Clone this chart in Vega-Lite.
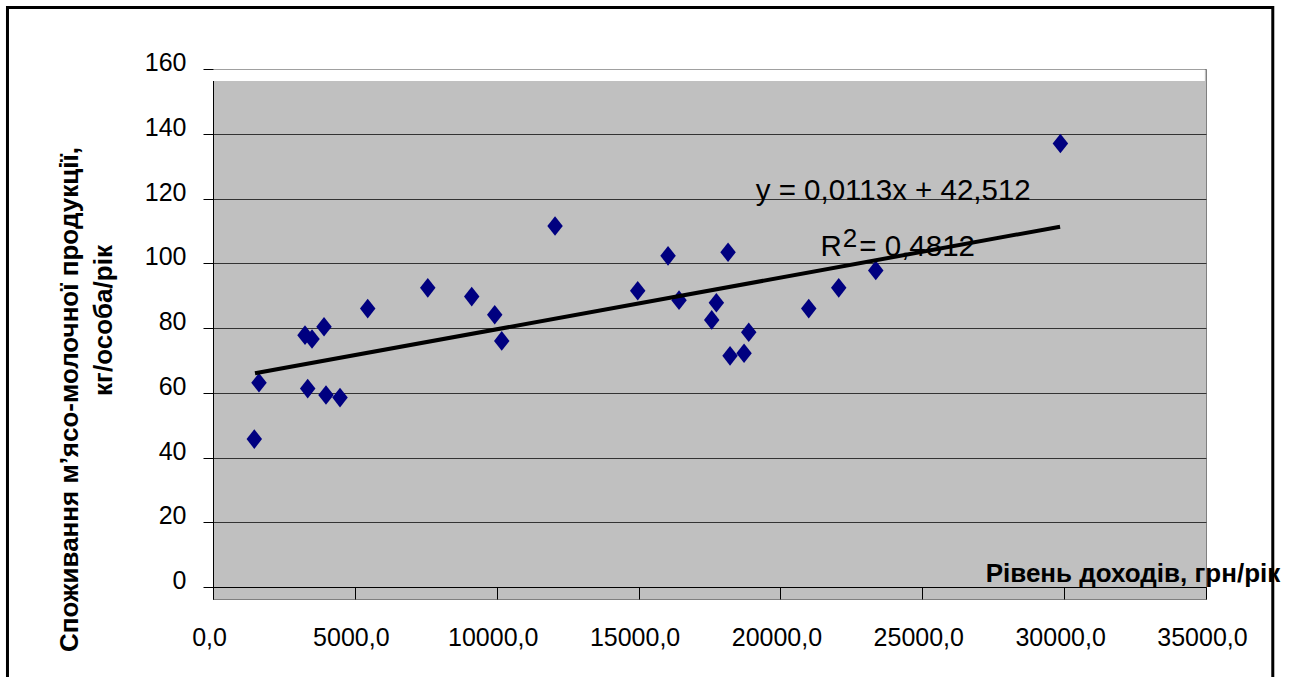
{
  "$schema": "https://vega.github.io/schema/vega-lite/v6.json",
  "width": 993,
  "height": 530,
  "autosize": {"type": "none"},
  "padding": {"left": 213, "top": 69, "right": 93, "bottom": 78},
  "background": "white",
  "config": {
    "font": "Liberation Sans",
    "view": {"fill": "#C0C0C0", "stroke": "#808080", "strokeWidth": 1}
  },
  "data": {"values": [{}]},
  "datasets": {
    "points": [
      {"income": 1456, "consumption": 45.7},
      {"income": 1621, "consumption": 63.1},
      {"income": 3243, "consumption": 77.8},
      {"income": 3490, "consumption": 76.6},
      {"income": 3338, "consumption": 61.3},
      {"income": 3913, "consumption": 80.4},
      {"income": 3983, "consumption": 59.3},
      {"income": 4477, "consumption": 58.5},
      {"income": 5453, "consumption": 86.0},
      {"income": 7570, "consumption": 92.4},
      {"income": 9119, "consumption": 89.7},
      {"income": 9930, "consumption": 84.1},
      {"income": 10177, "consumption": 76.0},
      {"income": 12056, "consumption": 111.5},
      {"income": 14970, "consumption": 91.5},
      {"income": 16039, "consumption": 102.3},
      {"income": 16426, "consumption": 88.6},
      {"income": 17578, "consumption": 82.5},
      {"income": 17742, "consumption": 87.8},
      {"income": 18224, "consumption": 71.4},
      {"income": 18154, "consumption": 103.4},
      {"income": 18718, "consumption": 72.2},
      {"income": 18883, "consumption": 78.7},
      {"income": 20998, "consumption": 86.0},
      {"income": 22055, "consumption": 92.4},
      {"income": 23360, "consumption": 97.8},
      {"income": 29868, "consumption": 137.0}
    ],
    "trend": [
      {"income": 1480, "consumption": 66.0},
      {"income": 29857, "consumption": 111.3}
    ]
  },
  "layer": [
    {
      "mark": {"type": "rect", "fill": "white"},
      "encoding": {
        "x": {"datum": 0, "type": "quantitative", "axis": null},
        "x2": {"datum": 34960},
        "y": {"datum": 156.3, "type": "quantitative", "axis": null},
        "y2": {"datum": 159.8}
      }
    },
    {
      "data": {"name": "points"},
      "mark": {"type": "point", "shape": "M0,-1.27L1,0L0,1.27L-1,0Z", "filled": true, "color": "#000080", "size": 240, "opacity": 1},
      "encoding": {
        "x": {
          "field": "income", "type": "quantitative",
          "scale": {"domain": [0, 35000], "nice": false, "zero": false},
          "axis": {
            "values": [0, 5000, 10000, 15000, 20000, 25000, 30000, 35000],
            "labelExpr": "replace(format(datum.value, '.1f'), '.', ',')",
            "offset": -12,
            "grid": false,
            "domainColor": "black", "domainWidth": 1,
            "tickColor": "black", "tickSize": 12, "tickWidth": 1,
            "labelFontSize": 25, "labelColor": "black", "labelPadding": 26, "labelOffset": -4,
            "labelFlush": false, "labelOverlap": false, "labelBound": false,
            "title": "Рівень доходів, грн/рік",
            "titleFontSize": 26, "titleFontWeight": "bold", "titleColor": "black",
            "titleX": 919.5, "titleY": -5.3, "titleAlign": "center", "titleBaseline": "alphabetic"
          }
        },
        "y": {
          "field": "consumption", "type": "quantitative",
          "scale": {"domain": [-3.7, 160], "nice": false, "zero": false},
          "axis": {
            "orient": "left",
            "values": [0, 20, 40, 60, 80, 100, 120, 140, 160],
            "grid": true,
            "gridColor": {"condition": {"test": "datum.value >= 160", "value": "#808080"}, "value": "#333333"},
            "gridWidth": 1,
            "domainColor": "black", "domainWidth": 1,
            "tickColor": "black", "tickSize": 10, "tickWidth": 1,
            "labelFontSize": 25, "labelColor": "black", "labelPadding": 17,
            "labelBaseline": "alphabetic", "labelOffset": 1.5,
            "labelFlush": false, "labelOverlap": false, "labelBound": false,
            "title": "Споживання м’ясо-молочної продукції,",
            "titleFontSize": 26, "titleFontWeight": "bold", "titleColor": "black",
            "titleX": -135.7, "titleY": 330, "titleAngle": 270, "titleAlign": "center", "titleBaseline": "alphabetic"
          }
        }
      }
    },
    {
      "data": {"name": "trend"},
      "mark": {"type": "line", "color": "black", "strokeWidth": 4},
      "encoding": {
        "x": {"field": "income", "type": "quantitative", "axis": null},
        "y": {
          "field": "consumption", "type": "quantitative",
          "axis": {
            "orient": "left",
            "labels": false, "ticks": false, "domain": false, "grid": false,
            "title": "кг/особа/рік",
            "titleFontSize": 26, "titleFontWeight": "bold", "titleColor": "black",
            "titleX": -102, "titleY": 251, "titleAngle": 270, "titleAlign": "center", "titleBaseline": "alphabetic"
          }
        }
      }
    },
    {
      "mark": {"type": "text", "align": "left", "baseline": "alphabetic", "fontSize": 29.5, "color": "black", "text": "y = 0,0113x + 42,512"},
      "encoding": {
        "x": {"datum": 19129, "type": "quantitative", "axis": null},
        "y": {"datum": 119.5, "type": "quantitative", "axis": null}
      }
    },
    {
      "mark": {"type": "text", "align": "left", "baseline": "alphabetic", "fontSize": 29.5, "color": "black", "text": "R"},
      "encoding": {
        "x": {"datum": 21409, "type": "quantitative", "axis": null},
        "y": {"datum": 102.2, "type": "quantitative", "axis": null}
      }
    },
    {
      "mark": {"type": "text", "align": "left", "baseline": "alphabetic", "fontSize": 26, "color": "black", "text": "2"},
      "encoding": {
        "x": {"datum": 22193, "type": "quantitative", "axis": null},
        "y": {"datum": 105.1, "type": "quantitative", "axis": null}
      }
    },
    {
      "mark": {"type": "text", "align": "left", "baseline": "alphabetic", "fontSize": 29.5, "color": "black", "text": "= 0,4812"},
      "encoding": {
        "x": {"datum": 22780, "type": "quantitative", "axis": null},
        "y": {"datum": 102.2, "type": "quantitative", "axis": null}
      }
    },
    {
      "mark": {"type": "rect", "fillOpacity": 0, "fill": "white", "stroke": "black", "strokeWidth": 3, "clip": false},
      "encoding": {
        "x": {"datum": -7244, "type": "quantitative", "axis": null},
        "x2": {"datum": 37354},
        "y": {"datum": 179.0, "type": "quantitative", "axis": null},
        "y2": {"datum": -31.8}
      }
    }
  ],
  "resolve": {"axis": {"x": "independent", "y": "independent"}}
}
